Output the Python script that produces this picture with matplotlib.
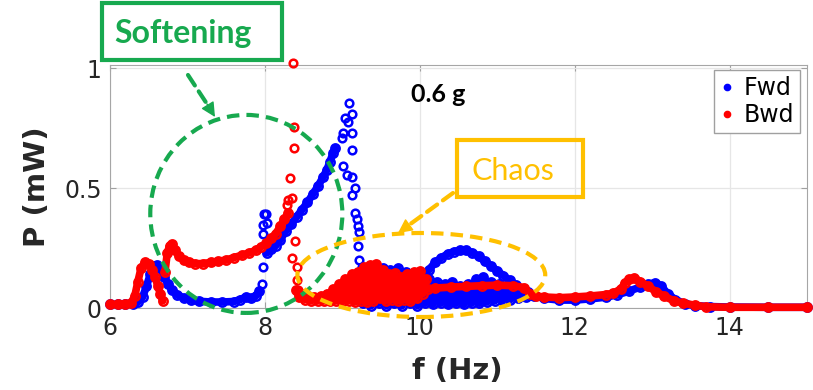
import numpy as np
import matplotlib
matplotlib.use('Agg')
import matplotlib.pyplot as plt
from matplotlib.patches import Ellipse, Rectangle
from matplotlib.lines import Line2D

# ---- data (f in Hz, P in mW) ----
# Fwd sweep
fwd_low_f = [6.00, 6.10, 6.20, 6.30, 6.36, 6.42, 6.47, 6.52, 6.57, 6.61, 6.65, 6.70, 6.75,
             6.80, 6.87, 6.95, 7.05, 7.15, 7.30, 7.45, 7.60, 7.68, 7.75, 7.82, 7.88, 7.93]
fwd_low_p = [0.015, 0.015, 0.016, 0.018, 0.025, 0.045, 0.09, 0.14, 0.175, 0.18, 0.165, 0.13, 0.10,
             0.075, 0.055, 0.042, 0.033, 0.028, 0.025, 0.025, 0.027, 0.035, 0.045, 0.04, 0.05, 0.07]
fwd_jump_f = [7.96, 7.97, 7.98, 7.98, 7.99, 8.02, 8.03]
fwd_jump_p = [0.10, 0.17, 0.31, 0.345, 0.39, 0.39, 0.355]
fwd_up_f = [8.03, 8.08, 8.14, 8.20, 8.27, 8.34, 8.41, 8.48, 8.55, 8.62, 8.69, 8.75, 8.80, 8.84, 8.88, 8.91]
fwd_up_p = [0.23, 0.245, 0.26, 0.285, 0.32, 0.35, 0.38, 0.41, 0.44, 0.475, 0.51, 0.545, 0.575, 0.61, 0.645, 0.665]
fwd_drop_f = [9.09, 9.12, 9.07, 9.03, 9.01, 8.99, 9.13, 9.13, 9.01, 9.06, 9.12, 9.16, 9.13,
              9.16, 9.19, 9.20, 9.22, 9.20, 9.22, 9.25, 9.25]
fwd_drop_p = [0.855, 0.81, 0.775, 0.79, 0.73, 0.71, 0.73, 0.66, 0.59, 0.555, 0.545, 0.50, 0.47,
              0.395, 0.37, 0.34, 0.315, 0.26, 0.20, 0.17, 0.145]
fwd_band_f = [9.22, 9.27, 9.32, 9.37, 9.42, 9.47, 9.52, 9.57, 9.62, 9.67, 9.72, 9.77, 9.82, 9.87,
              9.92, 9.97, 10.02, 10.07, 10.12, 10.17, 10.22, 10.27, 10.32, 10.37, 10.42, 10.47,
              10.52, 10.57, 10.62, 10.67, 10.72, 10.77, 10.82, 10.87, 10.92, 10.97, 11.02, 11.07,
              11.12, 11.17, 11.22, 11.27, 11.32, 11.37, 11.42, 11.47]
fwd_band_p = [0.12, 0.02, 0.14, 0.01, 0.15, 0.02, 0.165, 0.01, 0.16, 0.02, 0.165, 0.01, 0.15, 0.02,
              0.13, 0.01, 0.14, 0.02, 0.12, 0.015, 0.11, 0.02, 0.10, 0.015, 0.11, 0.02,
              0.09, 0.015, 0.10, 0.02, 0.12, 0.02, 0.13, 0.025, 0.11, 0.03, 0.10, 0.03,
              0.09, 0.035, 0.08, 0.04, 0.07, 0.045, 0.06, 0.05]
fwd_arc_f = [10.05, 10.12, 10.2, 10.28, 10.36, 10.44, 10.52, 10.6, 10.68, 10.76, 10.84, 10.92,
             11.0, 11.08, 11.16, 11.24, 11.32, 11.4]
fwd_arc_p = [0.13, 0.16, 0.19, 0.21, 0.225, 0.235, 0.24, 0.24, 0.23, 0.215, 0.195, 0.175,
             0.155, 0.135, 0.115, 0.095, 0.08, 0.065]
fwd_tail_f = [11.45, 11.6, 11.8, 12.0, 12.2, 12.4, 12.55, 12.7, 12.85, 12.95, 13.04, 13.12, 13.2,
              13.3, 13.42, 13.55, 13.75, 14.0, 14.5, 15.0]
fwd_tail_p = [0.055, 0.04, 0.033, 0.033, 0.038, 0.045, 0.055, 0.07, 0.088, 0.1, 0.105, 0.09, 0.06,
              0.035, 0.018, 0.01, 0.006, 0.004, 0.003, 0.003]

# Bwd sweep
bwd_low_f = [6.00, 6.10, 6.20, 6.27, 6.32, 6.36, 6.40, 6.45, 6.50, 6.54, 6.58, 6.62, 6.65, 6.68]
bwd_low_p = [0.015, 0.015, 0.017, 0.02, 0.05, 0.11, 0.165, 0.19, 0.185, 0.16, 0.13, 0.09, 0.06, 0.03]
bwd_up_f = [6.71, 6.74, 6.77, 6.80, 6.84, 6.89, 6.95, 7.02, 7.1, 7.2, 7.3, 7.4, 7.5, 7.6, 7.7,
            7.8, 7.88, 7.95, 8.02, 8.08, 8.14, 8.2, 8.25, 8.3]
bwd_up_p = [0.15, 0.23, 0.26, 0.265, 0.24, 0.215, 0.2, 0.19, 0.185, 0.185, 0.19, 0.195, 0.2, 0.21,
            0.22, 0.23, 0.24, 0.255, 0.27, 0.29, 0.31, 0.34, 0.37, 0.395]
bwd_jump_f = [8.36, 8.38, 8.37, 8.32, 8.35, 8.29, 8.30, 8.39, 8.35, 8.42, 8.42, 8.43]
bwd_jump_p = [1.02, 0.755, 0.665, 0.54, 0.46, 0.43, 0.45, 0.28, 0.21, 0.17, 0.117, 0.075]
bwd_chaos_f = [8.40, 8.44, 8.48, 8.52, 8.56, 8.60, 8.64, 8.68, 8.72, 8.76, 8.80, 8.84, 8.88, 8.92,
               8.96, 9.00, 9.04, 9.08, 9.12, 9.16, 9.20, 9.24, 9.28, 9.32, 9.36, 9.40, 9.44, 9.48,
               9.52, 9.56, 9.60, 9.64, 9.68, 9.72, 9.76, 9.80, 9.84, 9.88, 9.92, 9.96, 10.00,
               10.04, 10.08]
bwd_chaos_p = [0.075, 0.045, 0.06, 0.035, 0.05, 0.03, 0.045, 0.03, 0.05, 0.03, 0.06, 0.03, 0.08, 0.03,
               0.10, 0.025, 0.12, 0.03, 0.14, 0.025, 0.15, 0.03, 0.17, 0.025, 0.18, 0.03, 0.185, 0.04,
               0.16, 0.03, 0.14, 0.035, 0.145, 0.03, 0.13, 0.035, 0.14, 0.03, 0.15, 0.04, 0.155,
               0.06, 0.12]
bwd_tail_f = [10.1, 10.2, 10.4, 10.6, 10.8, 11.0, 11.2, 11.35, 11.42, 11.5, 11.6, 11.8, 12.0, 12.2,
              12.4, 12.5, 12.6, 12.65, 12.7, 12.77, 12.85, 12.95, 13.05, 13.15, 13.28, 13.4, 13.55,
              13.7, 14.0, 14.5, 15.0]
bwd_tail_p = [0.08, 0.083, 0.087, 0.09, 0.093, 0.095, 0.093, 0.085, 0.06, 0.05, 0.046, 0.043, 0.046,
              0.05, 0.056, 0.062, 0.08, 0.105, 0.12, 0.125, 0.11, 0.09, 0.068, 0.05, 0.03, 0.02, 0.012,
              0.005, 0.003, 0.003, 0.003]

xticks = [6, 8, 10, 12, 14]
yticks = [0, 0.5, 1]
ytick_labels = ['0', '0.5', '1']

W, H = 813, 390
blue = '#0000ff'
red = '#ff0000'
green = '#17a94f'
gold = '#ffc000'
txt = '#262626'

fig = plt.figure(figsize=(W / 100, H / 100), dpi=100)
ax = fig.add_axes([110 / W, 1 - 308 / H, 697 / W, 243 / H])


def branch(f, p, c, z):
    ax.plot(f, p, '-o', color=c, lw=5.5, ms=6, mew=1.8, mfc='none', clip_on=False, zorder=z,
            solid_capstyle='round', solid_joinstyle='round')


def scat(f, p, c, z):
    ax.plot(f, p, 'o', color=c, ms=5.5, mew=1.8, mfc='none', clip_on=False, zorder=z)


# Fwd first, Bwd on top
branch(fwd_low_f, fwd_low_p, blue, 3)
scat(fwd_jump_f, fwd_jump_p, blue, 3)
branch(fwd_up_f, fwd_up_p, blue, 3)
scat(fwd_drop_f, fwd_drop_p, blue, 3)
branch(fwd_band_f, fwd_band_p, blue, 3)
branch(fwd_arc_f, fwd_arc_p, blue, 3)
branch(fwd_tail_f, fwd_tail_p, blue, 3)

branch(bwd_low_f, bwd_low_p, red, 4)
branch(bwd_up_f, bwd_up_p, red, 4)
scat(bwd_jump_f, bwd_jump_p, red, 4)
branch(bwd_chaos_f, bwd_chaos_p, red, 4)
branch(bwd_tail_f, bwd_tail_p, red, 4)

ax.set_xlim(6, 15)
ax.set_ylim(0, 1.0125)
ax.set_xticks(xticks)
ax.set_yticks(yticks)
ax.set_yticklabels(ytick_labels)
ax.tick_params(direction='in', top=True, right=True, length=4, color='#a0a0a0',
               labelsize=17, pad=6, labelcolor=txt)
ax.grid(True, color='#e6e6e6', lw=0.9)
ax.set_axisbelow(True)
for s in ax.spines.values():
    s.set_color('#a6a6a6')

ax.set_xlabel('f (Hz)', fontsize=21, fontweight='bold', color=txt)
ax.xaxis.set_label_coords(0.498, -0.2)
ax.set_ylabel('P (mW)', fontsize=21, fontweight='bold', color=txt)
ax.yaxis.set_label_coords(-0.085, 0.5)

handles = [Line2D([], [], ls='none', marker='o', color=blue, ms=3.5, mew=2),
           Line2D([], [], ls='none', marker='o', color=red, ms=3.5, mew=2)]
ax.legend(handles, ['Fwd', 'Bwd'], loc='upper right',
          bbox_to_anchor=((800 - 110) / 697, (308 - 70) / 243), fontsize=17,
          frameon=True, fancybox=False, edgecolor='#a0a0a0', framealpha=1,
          handlelength=0.6, handletextpad=0.4, borderpad=0.25, labelspacing=0.15,
          borderaxespad=0)

# ---- annotations ----
ax.add_patch(Ellipse((7.76, 0.392), 2.48, 0.825, fill=False, ec=green, lw=3,
                     ls=(0, (3, 1.7)), clip_on=False, zorder=6))
ax.add_patch(Ellipse((10.02, 0.1375), 3.2, 0.35, fill=False, ec=gold, lw=3,
                     ls=(0, (3, 1.7)), clip_on=False, zorder=6))


def P(x, y):
    return (x, H - y)


def dashed_arrow(tail, tip, back, c):
    ax.annotate('', xy=P(*back), xytext=P(*tail), xycoords='figure pixels',
                arrowprops=dict(arrowstyle='-', color=c, lw=3, ls=(0, (3, 1.7)),
                                shrinkA=0, shrinkB=0), zorder=7)
    ax.annotate('', xy=P(*tip), xytext=P(*back), xycoords='figure pixels',
                arrowprops=dict(arrowstyle='-|>', color=c, lw=1, mutation_scale=22,
                                shrinkA=0, shrinkB=0), zorder=7)


dashed_arrow((188, 75), (215, 117), (207, 104), green)
dashed_arrow((453, 193), (398, 233), (409, 225), gold)

fig.patches.append(Rectangle((102 / W, 1 - 60 / H), 180 / W, 57 / H, transform=fig.transFigure,
                             fill=False, ec=green, lw=3))
fig.text(183 / W, 1 - 43 / H, 'Softening', family='Lato', fontweight='bold', fontsize=23,
         color=green, ha='center', va='baseline')
fig.patches.append(Rectangle((457 / W, 1 - 197 / H), 126 / W, 57 / H, transform=fig.transFigure,
                             fill=False, ec=gold, lw=3))
fig.text(513 / W, 1 - 180 / H, 'Chaos', family='Lato', fontsize=22,
         color=gold, ha='center', va='baseline')
fig.text(438 / W, 1 - 102 / H, '0.6 g', family='Lato', fontweight='bold', fontsize=18,
         color='black', ha='center', va='baseline')

fig.savefig('out.png', dpi=100)
